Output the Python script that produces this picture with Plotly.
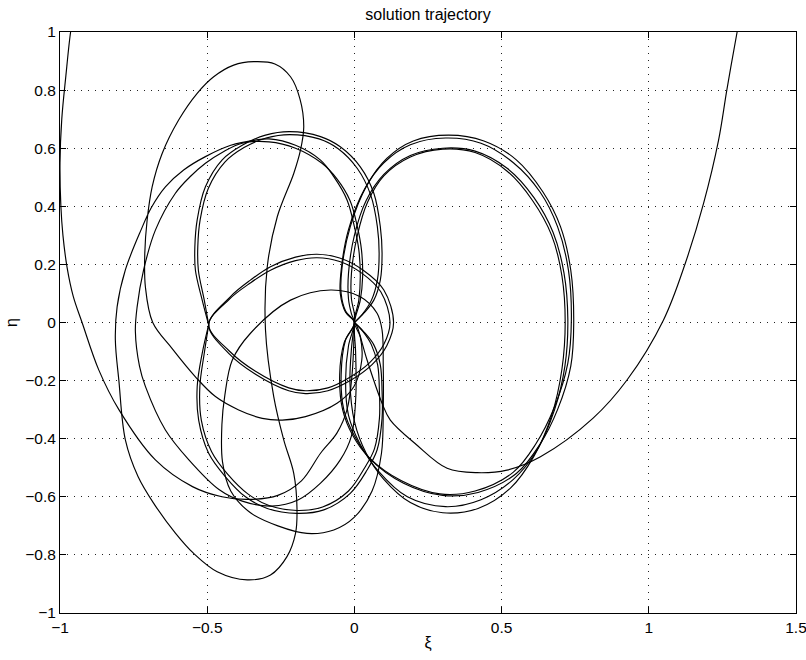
import plotly.graph_objects as go

# ---- data (xi, eta) ----
outer_left_x = [-0.955, -0.964, -0.98, -0.994, -1.0, -0.997, -0.99, -0.976, -0.955, -0.925, -0.868, -0.80, -0.676, -0.55, -0.45, -0.36, -0.26, -0.18, -0.115, -0.059, -0.025, -0.008, 0.0]
outer_left_y = [1.05, 1.0, 0.85, 0.7, 0.55, 0.4, 0.3, 0.19, 0.09, 0.0, -0.164, -0.30, -0.473, -0.565, -0.60, -0.609, -0.595, -0.545, -0.45, -0.38, -0.30, -0.18, 0.0]

outer_right_x = [1.31, 1.30, 1.265, 1.237, 1.186, 1.124, 1.05, 0.926, 0.81, 0.632, 0.518, 0.417, 0.315, 0.21, 0.122, 0.094, 0.043, 0.009, 0.0]
outer_right_y = [1.05, 1.0, 0.8, 0.628, 0.41, 0.204, 0.009, -0.198, -0.33, -0.462, -0.508, -0.517, -0.502, -0.42, -0.336, -0.278, -0.129, -0.014, 0.0]

r1_x = [0, -0.03, -0.045, -0.036, 0.0, 0.054, 0.167, 0.30, 0.42, 0.55, 0.63, 0.69, 0.735, 0.745, 0.735, 0.70, 0.64, 0.55, 0.44, 0.32, 0.20, 0.11, 0.043, -0.014, -0.042, -0.045, -0.03, 0]
r1_y = [0, -0.06, -0.18, -0.30, -0.39, -0.47, -0.553, -0.595, -0.585, -0.52, -0.42, -0.30, -0.15, 0.0, 0.18, 0.33, 0.45, 0.56, 0.625, 0.645, 0.625, 0.565, 0.473, 0.33, 0.19, 0.10, 0.04, 0]
r2_x = [0, -0.035, -0.05, -0.04, -0.005, 0.05, 0.16, 0.29, 0.41, 0.54, 0.615, 0.68, 0.725, 0.737, 0.727, 0.69, 0.63, 0.54, 0.43, 0.31, 0.19, 0.10, 0.035, -0.02, -0.045, -0.048, -0.03, 0]
r2_y = [0, -0.07, -0.18, -0.30, -0.39, -0.465, -0.545, -0.59, -0.58, -0.515, -0.42, -0.29, -0.14, 0.01, 0.18, 0.33, 0.45, 0.55, 0.617, 0.635, 0.612, 0.55, 0.46, 0.32, 0.18, 0.10, 0.035, 0]
r3_x = [0, -0.02, -0.03, -0.02, 0.02, 0.08, 0.18, 0.31, 0.43, 0.54, 0.62, 0.68, 0.715, 0.725, 0.712, 0.675, 0.61, 0.52, 0.41, 0.30, 0.19, 0.10, 0.04, 0.0, -0.02, -0.02, -0.01, 0]
r3_y = [0, -0.08, -0.2, -0.32, -0.42, -0.51, -0.6, -0.634, -0.61, -0.54, -0.44, -0.30, -0.15, 0.01, 0.17, 0.31, 0.43, 0.53, 0.59, 0.60, 0.575, 0.51, 0.42, 0.30, 0.17, 0.08, 0.03, 0]
r4_x = [0, -0.01, -0.015, 0.0, 0.04, 0.10, 0.19, 0.30, 0.42, 0.53, 0.61, 0.67, 0.705, 0.716, 0.705, 0.67, 0.605, 0.52, 0.41, 0.30, 0.19, 0.10, 0.045, 0.01, -0.01, -0.01, 0.0, 0]
r4_y = [0, -0.09, -0.21, -0.34, -0.45, -0.54, -0.62, -0.655, -0.64, -0.57, -0.46, -0.32, -0.16, 0.0, 0.16, 0.30, 0.42, 0.52, 0.585, 0.597, 0.57, 0.505, 0.415, 0.30, 0.17, 0.08, 0.03, 0]

u1_x = [-0.495, -0.517, -0.54, -0.542, -0.534, -0.506, -0.449, -0.381, -0.302, -0.22, -0.115, -0.048, 0.02, 0.066, 0.088, 0.094, 0.088, 0.066, 0.032, 0.0]
u1_y = [-0.008, 0.077, 0.18, 0.26, 0.353, 0.467, 0.56, 0.61, 0.645, 0.657, 0.64, 0.605, 0.536, 0.445, 0.33, 0.238, 0.146, 0.077, 0.032, 0.0]
u2_x = [-0.495, -0.51, -0.53, -0.532, -0.524, -0.496, -0.44, -0.375, -0.30, -0.22, -0.12, -0.055, 0.01, 0.055, 0.078, 0.084, 0.078, 0.058, 0.028, 0.0]
u2_y = [-0.008, 0.077, 0.18, 0.26, 0.353, 0.462, 0.552, 0.602, 0.635, 0.647, 0.632, 0.598, 0.53, 0.44, 0.33, 0.238, 0.146, 0.077, 0.03, 0.0]

l1_x = [-0.495, -0.517, -0.534, -0.529, -0.495, -0.438, -0.37, -0.296, -0.195, -0.104, -0.014, 0.043, 0.077, 0.094, 0.094, 0.088, 0.066, 0.032, 0.0]
l1_y = [-0.008, -0.106, -0.221, -0.336, -0.45, -0.531, -0.6, -0.64, -0.657, -0.645, -0.588, -0.508, -0.439, -0.33, -0.238, -0.146, -0.077, -0.032, 0.0]
l2_x = [-0.495, -0.51, -0.525, -0.52, -0.485, -0.43, -0.362, -0.29, -0.195, -0.108, -0.02, 0.035, 0.068, 0.085, 0.085, 0.079, 0.058, 0.028, 0.0]
l2_y = [-0.008, -0.106, -0.221, -0.336, -0.445, -0.523, -0.59, -0.63, -0.647, -0.635, -0.58, -0.5, -0.435, -0.33, -0.238, -0.146, -0.077, -0.03, 0.0]

m1_x = [-0.495, -0.42, -0.353, -0.285, -0.2, -0.127, -0.05, 0.03, 0.1, 0.133, 0.11, 0.06, -0.014, -0.09, -0.166, -0.223, -0.336, -0.427, -0.495]
m1_y = [-0.008, 0.09, 0.146, 0.192, 0.225, 0.235, 0.222, 0.18, 0.112, 0.0, -0.08, -0.145, -0.2, -0.235, -0.245, -0.235, -0.178, -0.106, -0.008]
m2_x = [-0.495, -0.425, -0.355, -0.285, -0.2, -0.127, -0.05, 0.025, 0.09, 0.121, 0.1, 0.052, -0.018, -0.09, -0.166, -0.223, -0.336, -0.425, -0.495]
m2_y = [-0.008, 0.08, 0.135, 0.18, 0.213, 0.223, 0.21, 0.17, 0.105, 0.0, -0.075, -0.138, -0.19, -0.225, -0.235, -0.225, -0.168, -0.098, -0.008]

b1_x = [0.0, 0.015, 0.02, 0.015, 0.0, -0.025, -0.07, -0.115, -0.2, -0.29, -0.336, -0.42, -0.506, -0.58, -0.642, -0.69, -0.725, -0.778, -0.806, -0.812, -0.80, -0.778, -0.735, -0.68, -0.608, -0.546, -0.466, -0.364, -0.285, -0.229, -0.2, -0.195, -0.206, -0.24, -0.274, -0.302, -0.296, -0.262, -0.206, -0.183, -0.172, -0.185, -0.217, -0.27, -0.342, -0.41, -0.478, -0.534, -0.597, -0.653, -0.687, -0.704, -0.712, -0.71, -0.685, -0.619, -0.54, -0.472, -0.393, -0.313, -0.245, -0.166, -0.059, -0.002, 0.025, 0.02, 0.0]
b1_y = [0.0, 0.077, 0.158, 0.25, 0.33, 0.422, 0.502, 0.559, 0.61, 0.632, 0.628, 0.61, 0.571, 0.525, 0.467, 0.395, 0.318, 0.181, 0.054, -0.06, -0.2, -0.404, -0.53, -0.625, -0.725, -0.795, -0.858, -0.886, -0.869, -0.806, -0.726, -0.64, -0.519, -0.404, -0.255, -0.026, 0.192, 0.364, 0.513, 0.594, 0.674, 0.77, 0.846, 0.89, 0.898, 0.886, 0.846, 0.789, 0.697, 0.582, 0.467, 0.353, 0.238, 0.123, 0.0, -0.09, -0.187, -0.255, -0.301, -0.33, -0.336, -0.324, -0.278, -0.221, -0.13, -0.05, 0.0]

b2_x = [0.0, 0.02, 0.028, 0.024, 0.01, -0.015, -0.06, -0.11, -0.2, -0.29, -0.381, -0.445, -0.506, -0.56, -0.608, -0.676, -0.716, -0.738, -0.744, -0.73, -0.71, -0.642, -0.563, -0.46, -0.381, -0.28, -0.19, -0.115, -0.048, -0.01, 0.005, 0.004, 0.0]
b2_y = [0.0, 0.077, 0.158, 0.25, 0.33, 0.42, 0.495, 0.548, 0.6, 0.622, 0.617, 0.588, 0.548, 0.5, 0.445, 0.318, 0.181, 0.054, -0.03, -0.15, -0.22, -0.37, -0.472, -0.575, -0.615, -0.632, -0.61, -0.553, -0.473, -0.39, -0.25, -0.1, 0.0]

s2_x = [-0.081, 0.02, 0.077, 0.094, 0.098, 0.098, 0.092, 0.06, 0.0, -0.07, -0.161, -0.26, -0.353, -0.42, -0.448, -0.45, -0.44, -0.415, -0.353, -0.217, -0.081]
s2_y = [0.112, 0.089, 0.032, -0.026, -0.15, -0.3, -0.45, -0.58, -0.67, -0.714, -0.726, -0.70, -0.655, -0.58, -0.48, -0.35, -0.25, -0.13, -0.037, 0.077, 0.112]

x_tick_vals = [-1, -0.5, 0, 0.5, 1, 1.5]
x_tick_text = ["\u22121", "\u22120.5", "0", "0.5", "1", "1.5"]
y_tick_vals = [-1, -0.8, -0.6, -0.4, -0.2, 0, 0.2, 0.4, 0.6, 0.8, 1]
y_tick_text = ["\u22121", "\u22120.8", "\u22120.6", "\u22120.4", "\u22120.2", "0", "0.2", "0.4", "0.6", "0.8", "1"]

curves = [
    (outer_left_x, outer_left_y), (outer_right_x, outer_right_y),
    (r1_x, r1_y), (r2_x, r2_y), (r3_x, r3_y), (r4_x, r4_y),
    (u1_x, u1_y), (u2_x, u2_y), (l1_x, l1_y), (l2_x, l2_y),
    (m1_x, m1_y), (m2_x, m2_y), (b1_x, b1_y), (b2_x, b2_y), (s2_x, s2_y),
]

FONT = "Liberation Sans, Arial, Helvetica, sans-serif"

fig = go.Figure()
for cx, cy in curves:
    fig.add_trace(go.Scatter(x=cx, y=cy, mode="lines",
                             line=dict(color="black", width=1.15, shape="spline", smoothing=1.0),
                             hoverinfo="skip", showlegend=False))

axis_common = dict(showline=True, linecolor="black", linewidth=1, mirror="ticks",
                   ticks="inside", ticklen=6, tickcolor="black", automargin=False,
                   ticklabeloverflow="allow",
                   showgrid=True, gridcolor="#222", gridwidth=1, griddash="1px,6px",
                   zeroline=False, tickfont=dict(family=FONT, size=15.5, color="black"))

fig.update_xaxes(range=[-1, 1.5], tickvals=x_tick_vals, ticktext=x_tick_text,
                 title=dict(text="\u03be", font=dict(family=FONT, size=16, color="black"), standoff=2),
                 **axis_common)
fig.update_yaxes(range=[-1, 1], tickvals=y_tick_vals, ticktext=y_tick_text,
                 title=dict(text="\u03b7", font=dict(family=FONT, size=16, color="black"), standoff=3),
                 **axis_common)

fig.update_layout(
    width=806, height=660,
    margin=dict(l=60, r=10, t=32, b=47),
    paper_bgcolor="white", plot_bgcolor="white",
    title=dict(text="solution trajectory", x=0.531, xanchor="center", y=0.978, yanchor="middle",
               font=dict(family=FONT, size=16, color="black")),
)

fig.write_html("out.html", config={"displayModeBar": False},
               post_script="document.body.style.margin='0';document.body.style.overflow='hidden';")
